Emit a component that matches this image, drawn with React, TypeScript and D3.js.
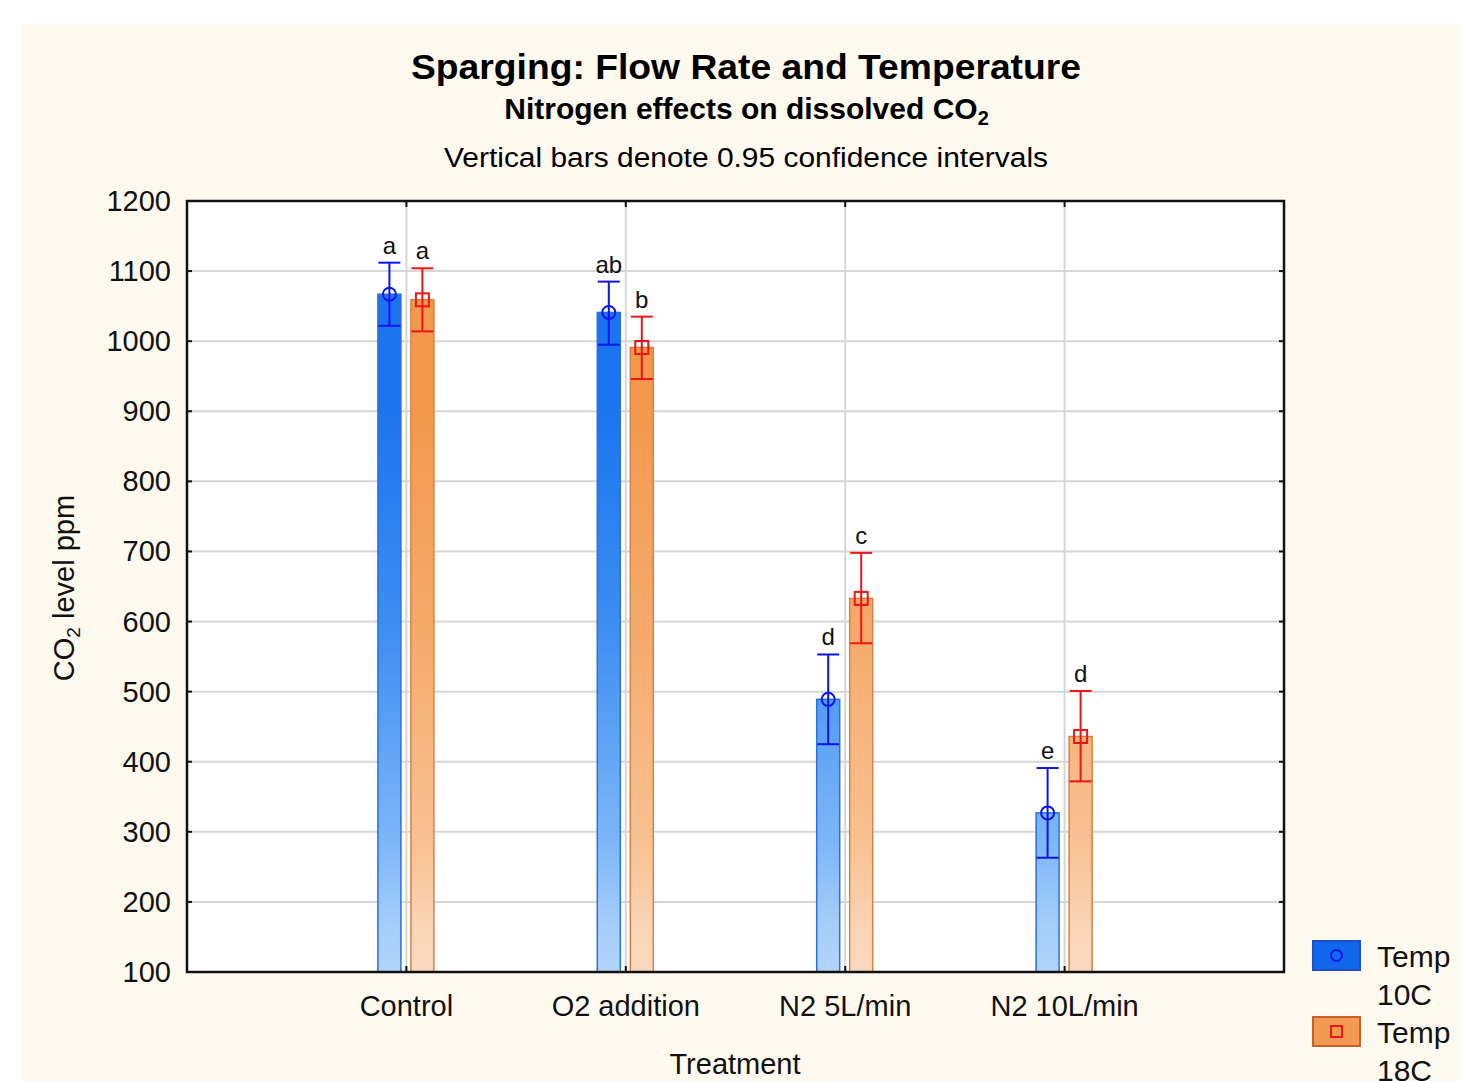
import React, { useEffect, useRef } from "react";
import * as d3 from "d3";

const categories = ["Control", "O2 addition", "N2 5L/min", "N2 10L/min"];
const yTicks = [100, 200, 300, 400, 500, 600, 700, 800, 900, 1000, 1100, 1200];

// Temp 10C
const mean10 = [1067, 1041, 489, 327];
const upper10 = [1112, 1085, 553, 391];
const lower10 = [1022, 995, 425, 263];
const letters10 = ["a", "ab", "d", "e"];

// Temp 18C
const mean18 = [1059, 991, 633, 436];
const upper18 = [1104, 1035, 698, 501];
const lower18 = [1014, 946, 569, 372];
const letters18 = ["a", "b", "c", "d"];

const W = 1462;
const H = 1081;
const FONT = "'Liberation Sans', Arial, sans-serif";

export default function App() {
  const ref = useRef<SVGSVGElement>(null);

  useEffect(() => {
    const svg = d3.select(ref.current);
    svg.selectAll("*").remove();

    const margin = { top: 201, left: 187, right: 178, bottom: 109 };
    const innerW = W - margin.left - margin.right;
    const innerH = H - margin.top - margin.bottom;

    const defs = svg.append("defs");
    const gBlue = defs.append("linearGradient").attr("id", "gBlue")
      .attr("gradientUnits", "userSpaceOnUse")
      .attr("x1", 0).attr("x2", 0).attr("y1", margin.top).attr("y2", margin.top + innerH);
    [["0", "#1a74ee"], ["0.3", "#3e8ff2"], ["0.58", "#80b8f8"], ["0.68", "#a6cefa"], ["1", "#e2effd"]]
      .forEach(([o, c]) => gBlue.append("stop").attr("offset", o).attr("stop-color", c));
    const gOr = defs.append("linearGradient").attr("id", "gOr")
      .attr("gradientUnits", "userSpaceOnUse")
      .attr("x1", 0).attr("x2", 0).attr("y1", margin.top).attr("y2", margin.top + innerH);
    [["0", "#f3984c"], ["0.3", "#f5aa6c"], ["0.58", "#f8c294"], ["0.68", "#fad4b6"], ["1", "#fdf0e6"]]
      .forEach(([o, c]) => gOr.append("stop").attr("offset", o).attr("stop-color", c));

    // page panel
    svg.append("rect").attr("x", 21).attr("y", 24).attr("width", W - 23).attr("height", H - 24)
      .attr("fill", "#fef9ee");

    // titles
    svg.append("text").attr("x", 746).attr("y", 79).attr("text-anchor", "middle")
      .attr("font-family", FONT).attr("font-weight", "bold").attr("font-size", 35)
      .attr("textLength", 670).attr("lengthAdjust", "spacingAndGlyphs")
      .text("Sparging: Flow Rate and Temperature");
    const sub = svg.append("text").attr("x", 746.5).attr("y", 119).attr("text-anchor", "middle")
      .attr("font-family", FONT).attr("font-weight", "bold").attr("font-size", 30);
    sub.append("tspan").text("Nitrogen effects on dissolved CO");
    sub.append("tspan").attr("font-size", 20).attr("dy", 6).text("2");
    svg.append("text").attr("x", 746).attr("y", 167).attr("text-anchor", "middle")
      .attr("font-family", FONT).attr("font-size", 27)
      .attr("textLength", 604).attr("lengthAdjust", "spacingAndGlyphs")
      .text("Vertical bars denote 0.95 confidence intervals");

    const g = svg.append("g").attr("transform", `translate(${margin.left},${margin.top})`);

    const x = d3.scaleLinear().domain([0, 5]).range([0, innerW]);
    const y = d3.scaleLinear().domain([100, 1200]).range([innerH, 0]);

    g.append("rect").attr("width", innerW).attr("height", innerH).attr("fill", "#fff");

    // gridlines
    g.selectAll(".hg").data(yTicks.slice(1, -1)).join("line")
      .attr("x1", 0).attr("x2", innerW).attr("y1", d => y(d)).attr("y2", d => y(d))
      .attr("stroke", "#d6d6d6").attr("stroke-width", 2);
    g.selectAll(".vg").data(categories).join("line")
      .attr("x1", (_, i) => x(i + 1)).attr("x2", (_, i) => x(i + 1))
      .attr("y1", 0).attr("y2", innerH)
      .attr("stroke", "#d6d6d6").attr("stroke-width", 2);

    const off = 17;
    const bw = 23;
    const series = [
      { mean: mean10, up: upper10, lo: lower10, letters: letters10, dx: -off, fill: "url(#gBlue)", stroke: "#2a6fe6", col: "#0a14f0", marker: "circle" },
      { mean: mean18, up: upper18, lo: lower18, letters: letters18, dx: off - 1, fill: "url(#gOr)", stroke: "#d9823f", col: "#f01414", marker: "square" },
    ];

    series.forEach(s => {
      const cx = (i: number) => x(i + 1) + s.dx;
      g.append("g").selectAll("rect").data(s.mean).join("rect")
        .attr("x", (_, i) => cx(i) - bw / 2).attr("width", bw)
        .attr("y", d => y(d)).attr("height", d => innerH - y(d))
        .attr("fill", s.fill).attr("stroke", s.stroke).attr("stroke-width", 1.5);
      const eb = g.append("g").attr("stroke", s.col).attr("stroke-width", 2).attr("fill", "none");
      s.mean.forEach((m, i) => {
        const c = cx(i);
        eb.append("line").attr("x1", c).attr("x2", c).attr("y1", y(s.up[i])).attr("y2", y(s.lo[i]));
        eb.append("line").attr("x1", c - 11).attr("x2", c + 11).attr("y1", y(s.up[i])).attr("y2", y(s.up[i]));
        eb.append("line").attr("x1", c - 11).attr("x2", c + 11).attr("y1", y(s.lo[i])).attr("y2", y(s.lo[i]));
        if (s.marker === "circle") {
          eb.append("circle").attr("cx", c).attr("cy", y(m)).attr("r", 6.5);
        } else {
          eb.append("rect").attr("x", c - 6.5).attr("y", y(m) - 6.5).attr("width", 13).attr("height", 13);
        }
        g.append("text").attr("x", c).attr("y", y(s.up[i]) - 9).attr("text-anchor", "middle")
          .attr("font-family", FONT).attr("font-size", 24).attr("fill", "#111")
          .text(s.letters[i]);
      });
    });

    // frame
    g.append("rect").attr("width", innerW).attr("height", innerH).attr("fill", "none")
      .attr("stroke", "#111").attr("stroke-width", 2.5);

    // ticks (inward)
    const yt = g.append("g").attr("stroke", "#111").attr("stroke-width", 2);
    yTicks.forEach(t => {
      yt.append("line").attr("x1", 0).attr("x2", 5).attr("y1", y(t)).attr("y2", y(t));
      yt.append("line").attr("x1", innerW - 5).attr("x2", innerW).attr("y1", y(t)).attr("y2", y(t));
    });
    categories.forEach((_, i) => {
      yt.append("line").attr("x1", x(i + 1)).attr("x2", x(i + 1)).attr("y1", innerH).attr("y2", innerH - 6);
      yt.append("line").attr("x1", x(i + 1)).attr("x2", x(i + 1)).attr("y1", 0).attr("y2", 6);
    });

    g.selectAll(".yl").data(yTicks).join("text")
      .attr("x", -16).attr("y", d => y(d) + 10).attr("text-anchor", "end")
      .attr("font-family", FONT).attr("font-size", 29).attr("fill", "#111")
      .text(d => d);

    g.selectAll(".xl").data(categories).join("text")
      .attr("x", (_, i) => x(i + 1)).attr("y", innerH + 44).attr("text-anchor", "middle")
      .attr("font-family", FONT).attr("font-size", 29).attr("fill", "#111")
      .text(d => d);

    svg.append("text").attr("x", 735).attr("y", 1074).attr("text-anchor", "middle")
      .attr("font-family", FONT).attr("font-size", 29).attr("fill", "#111").text("Treatment");

    const yl = svg.append("text").attr("transform", `translate(74,588) rotate(-90)`).attr("text-anchor", "middle")
      .attr("font-family", FONT).attr("font-size", 29).attr("fill", "#111");
    yl.append("tspan").text("CO");
    yl.append("tspan").attr("font-size", 19).attr("dy", 6).text("2");
    yl.append("tspan").attr("dy", -6).text(" level ppm");

    // legend
    const leg = [
      { fill: "#1166ee", stroke: "#1f4fc8", col: "#0a14f0", marker: "circle", l1: "Temp", l2: "10C", y: 941 },
      { fill: "#f39a52", stroke: "#c8602a", col: "#f01414", marker: "square", l1: "Temp", l2: "18C", y: 1017 },
    ];
    leg.forEach(l => {
      svg.append("rect").attr("x", 1313).attr("y", l.y).attr("width", 47).attr("height", 29)
        .attr("fill", l.fill).attr("stroke", l.stroke).attr("stroke-width", 2);
      if (l.marker === "circle") {
        svg.append("circle").attr("cx", 1336.5).attr("cy", l.y + 14.5).attr("r", 5.5)
          .attr("fill", "none").attr("stroke", l.col).attr("stroke-width", 2);
      } else {
        svg.append("rect").attr("x", 1331).attr("y", l.y + 9).attr("width", 11).attr("height", 11)
          .attr("fill", "none").attr("stroke", l.col).attr("stroke-width", 2);
      }
      svg.append("text").attr("x", 1377).attr("y", l.y + 26).attr("font-family", FONT).attr("font-size", 30)
        .attr("fill", "#111").text(l.l1);
      svg.append("text").attr("x", 1377).attr("y", l.y + 64).attr("font-family", FONT).attr("font-size", 30)
        .attr("fill", "#111").text(l.l2);
    });
  }, []);

  return (
    <svg ref={ref} width={W} height={H} style={{ position: "absolute", left: 0, top: 0, background: "#fff" }} />
  );
}
